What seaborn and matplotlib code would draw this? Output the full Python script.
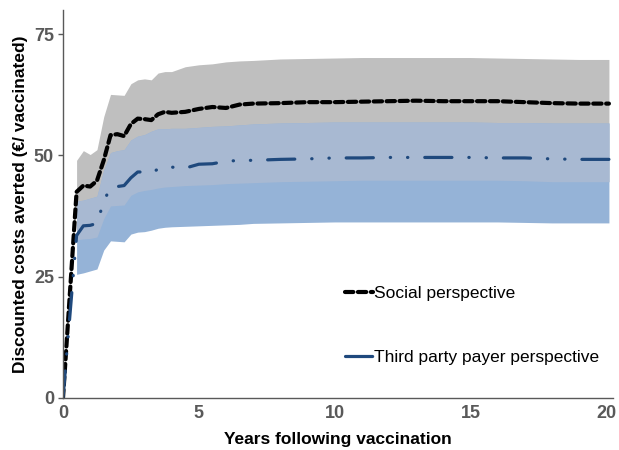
import numpy as np
import matplotlib
matplotlib.use("Agg")
import matplotlib.pyplot as plt
from matplotlib.ticker import MultipleLocator
import seaborn as sns

# years after vaccination (lines start at 0, bands at 0.5)
years = [0, 0.5, 0.75, 1.0, 1.25, 1.5, 1.75, 2.0, 2.25, 2.5, 2.75, 3.0, 3.25, 3.5,
         3.75, 4.0, 4.5, 5.0, 5.5, 6.0, 6.5, 7, 8, 9, 10, 11, 12, 13, 14, 15, 16,
         17, 18, 19, 20.1]

# social perspective: mean and interval
social = [0, 42.5, 43.8, 43.6, 44.8, 49.0, 54.2, 54.4, 54.0, 56.5, 57.6, 57.5, 57.3,
          58.5, 59.0, 58.8, 59.0, 59.6, 60.0, 59.8, 60.5, 60.7, 60.8, 61.0, 61.0,
          61.1, 61.2, 61.3, 61.2, 61.2, 61.2, 61.0, 60.8, 60.7, 60.7]
social_hi = [np.nan, 49.0, 51.0, 50.2, 51.2, 58.0, 62.6, 62.5, 62.4, 64.8, 65.6, 65.8,
             65.6, 67.0, 67.3, 67.3, 68.3, 68.7, 68.9, 69.3, 69.5, 69.6, 69.9, 70.0,
             70.1, 70.2, 70.2, 70.2, 70.2, 70.2, 70.1, 70.0, 69.9, 69.8, 69.8]
social_lo = [np.nan, 32.6, 32.8, 32.9, 33.2, 37.0, 39.6, 39.7, 39.8, 41.8, 42.5, 42.8,
             43.0, 43.3, 43.5, 43.6, 43.8, 43.9, 44.0, 44.2, 44.3, 44.4, 44.6, 44.7,
             44.8, 44.9, 44.9, 44.9, 44.9, 44.9, 44.9, 44.8, 44.6, 44.6, 44.6]

# third party payer perspective: mean and interval
tpp = [0, 33.5, 35.5, 35.6, 36.0, 40.5, 43.5, 43.6, 43.8, 45.4, 46.6, 46.6, 46.4,
       47.2, 47.7, 47.6, 47.4, 48.2, 48.3, 48.8, 49.0, 49.0, 49.2, 49.3, 49.5, 49.5,
       49.6, 49.6, 49.6, 49.6, 49.5, 49.5, 49.3, 49.2, 49.2]
tpp_hi = [np.nan, 40.6, 40.8, 41.2, 41.6, 47.0, 50.6, 51.0, 51.2, 53.2, 54.0, 54.3,
          55.0, 55.5, 55.5, 55.6, 55.6, 55.8, 56.0, 56.1, 56.3, 56.5, 56.7, 56.8,
          56.9, 56.9, 56.9, 56.9, 56.9, 56.9, 56.8, 56.8, 56.7, 56.7, 56.7]
tpp_lo = [np.nan, 25.5, 25.8, 26.2, 26.6, 30.5, 32.4, 32.3, 32.2, 33.8, 34.2, 34.3,
          34.6, 35.0, 35.2, 35.3, 35.4, 35.5, 35.6, 35.7, 35.8, 36.0, 36.1, 36.2,
          36.3, 36.3, 36.3, 36.3, 36.3, 36.3, 36.3, 36.2, 36.1, 36.1, 36.1]

sns.set_style("white")
plt.rcParams["font.family"] = ["Liberation Sans", "DejaVu Sans"]

fig = plt.figure(figsize=(6.19, 4.5), dpi=100)
ax = fig.add_axes([63 / 619, 52 / 450, 550 / 619, 388 / 450])

x = np.array(years)
# bands: grey (social), blue (third party), overlap in between
ax.fill_between(x, social_lo, social_hi, color="#bfbfbf", lw=0)
ax.fill_between(x, tpp_lo, tpp_hi, color="#95b3d7", lw=0)
ax.fill_between(x, social_lo, tpp_hi, color="#a8b9d2", lw=0)

sns.lineplot(x=years, y=social, color="black", lw=3.0, ax=ax,
             label="Social perspective")
ax.lines[-1].set_dashes((2.0, 1.1))
sns.lineplot(x=years, y=tpp, color="#1f497d", lw=2.3, ax=ax,
             label="Third party payer perspective")
ax.lines[-1].set_dashes((8.5, 5.3, 0.1, 5.3, 0.1, 5.3))
for ln in ax.lines:
    ln.set_dash_capstyle("round")

ax.set_xlim(0, 20.25)
ax.set_ylim(0, 80)
ax.xaxis.set_major_locator(MultipleLocator(5))
ax.xaxis.set_minor_locator(MultipleLocator(1.25))
ax.set_yticks([0, 25, 50, 75])

for s in ["top", "right"]:
    ax.spines[s].set_visible(False)
for s in ["left", "bottom"]:
    ax.spines[s].set_color("#595959")
    ax.spines[s].set_linewidth(1)

ax.tick_params(axis="x", which="both", direction="in", length=4, width=1,
               color="#595959", labelsize=13, labelcolor="#595959", pad=5)
ax.tick_params(axis="y", direction="out", length=3.5, width=1, color="#595959",
               labelsize=13, labelcolor="#595959", pad=3, left=True)
for lab in ax.get_xticklabels() + ax.get_yticklabels():
    lab.set_fontweight("bold")

ax.set_xlabel("Years following vaccination", fontsize=12.5, fontweight="bold",
              color="black", labelpad=7)
ax.set_ylabel("Discounted costs averted (€/ vaccinated)", fontsize=12.5,
              fontweight="bold", color="black", labelpad=4)

leg = ax.legend(loc="upper left", bbox_to_anchor=(0.50, 0.308), frameon=False,
                fontsize=12.5, handlelength=1.6, handletextpad=0.05,
                labelspacing=2.85, borderaxespad=0)
for t in leg.get_texts():
    t.set_color("black")

fig.savefig("out.png", dpi=100)
